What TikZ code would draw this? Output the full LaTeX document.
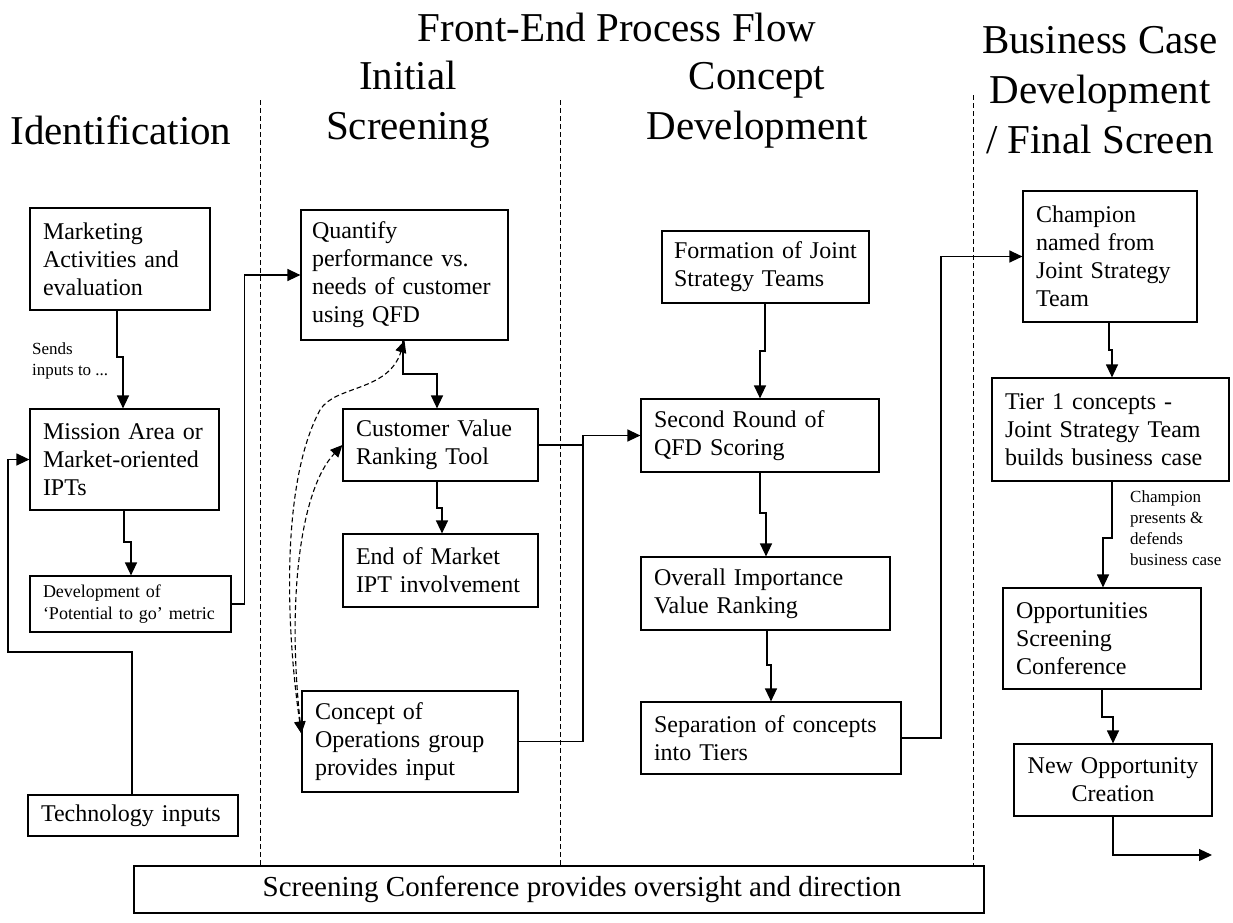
\documentclass[tikz,border=0pt]{standalone}
\usepackage{fontspec}
\setmainfont{Liberation Serif}
\usetikzlibrary{arrows.meta,calc}
\begin{document}
\begin{tikzpicture}[x=1pt,y=-1pt,
  box/.style={draw,line width=1.2pt,inner xsep=13pt,inner ysep=2pt,align=left,font=\fontsize{24}{28}\selectfont},
  hdr/.style={align=center,font=\fontsize{41}{50}\selectfont,inner sep=0pt},
  lbl/.style={align=left,font=\fontsize{17}{21}\selectfont,inner sep=0pt},
  conn/.style={line width=1.3pt,-{Triangle[length=13pt,width=12pt]}},
  plainline/.style={line width=1.3pt},
  divider/.style={line width=1pt,dash pattern=on 5pt off 3pt},
  fb/.style={line width=1.1pt,dash pattern=on 5pt off 3pt,{Triangle[length=12pt,width=11pt]}-{Triangle[length=12pt,width=11pt]}}
]
\fill[white] (0,0) rectangle (1233,922);
\useasboundingbox (0,0) rectangle (1233,922);

% headers
\node[hdr] (title) at (617,27) {Front-End Process Flow};
\node[hdr] (h1) at (121,130) {Identification};
\node[hdr] (h2) at (408,105) {Initial\\Screening};
\node[hdr] (h3) at (757,105) {Concept\\Development};
\node[hdr] (h4) at (1100,90) {Business Case\\Development\\/ Final Screen};

% dividers
\draw[divider] (260,100) -- (260,865);
\draw[divider] (560,100) -- (560,865);
\draw[divider] (973,95) -- (973,865);

% boxes
\node[box,minimum width=180pt,minimum height=102pt,text width=154pt] (mkt) at (120,259) {Marketing\\Activities and\\evaluation};
\node[box,minimum width=189pt,minimum height=101pt,text width=163pt] (mis) at (124.5,459.5) {Mission Area or\\Market-oriented\\IPTs};
\node[box,minimum width=201pt,minimum height=56pt,text width=175pt,font=\fontsize{18}{22}\selectfont] (dev) at (130.5,604) {Development of\\‘Potential to go’ metric};
\node[box,minimum width=210pt,minimum height=41pt,text width=184pt] (tech) at (133,815.5) {Technology inputs};

\node[box,minimum width=207pt,minimum height=130pt,text width=185pt,inner xsep=11pt] (qfd) at (404.5,275) {Quantify\\performance vs.\\needs of customer\\using QFD};
\node[box,minimum width=195pt,minimum height=72pt,text width=169pt] (cvr) at (440.5,445) {Customer Value\\Ranking Tool};
\node[box,minimum width=195pt,minimum height=73pt,text width=169pt] (end) at (440.5,570.5) {End of Market\\IPT involvement};
\node[box,minimum width=216pt,minimum height=101pt,text width=190pt] (con) at (410,741.5) {Concept of\\Operations group\\provides input};

\node[box,minimum width=207pt,minimum height=72pt,text width=191pt,inner xsep=8pt] (form) at (765.5,267) {\hspace*{4pt}Formation of Joint\\\hspace*{4pt}Strategy Teams};
\node[box,minimum width=238pt,minimum height=73pt,text width=212pt] (sec) at (760,435.5) {Second Round of\\QFD Scoring};
\node[box,minimum width=249pt,minimum height=73pt,text width=223pt] (ovr) at (765.5,593.5) {Overall Importance\\Value Ranking};
\node[box,minimum width=260pt,minimum height=72pt,text width=234pt] (sep) at (771,738) {Separation of concepts\\into Tiers};

\node[box,minimum width=174pt,minimum height=131pt,text width=148pt] (champ) at (1110,256.5) {Champion\\named from\\Joint Strategy\\Team};
\node[box,minimum width=237pt,minimum height=103pt,text width=211pt] (tier) at (1110.5,429.5) {Tier 1 concepts -\\Joint Strategy Team\\builds business case};
\node[box,minimum width=198pt,minimum height=101pt,text width=172pt] (opp) at (1102,638.5) {Opportunities\\Screening\\Conference};
\node[box,minimum width=198pt,minimum height=72pt,text width=172pt,align=center] (new) at (1113,780) {New Opportunity\\Creation};

\node[box,align=center,font=\fontsize{29}{34}\selectfont,minimum width=850pt,minimum height=47pt,inner xsep=0pt] (bot) at (559,889.5) {\hspace*{46pt}Screening Conference provides oversight and direction};

% labels
\node[lbl,anchor=north west] (sends) at (32,342) {Sends\\inputs to ...};
\node[lbl,anchor=north west] (pres) at (1130,490) {Champion\\presents \&\\defends\\business case};

% connectors
\draw[conn] (mkt.south -| 117,0) -- (117,357) -- (123,357) -- (mis.north -| 123,0);
\draw[conn] (mis.south -| 124,0) -- (124,542) -- (131,542) -- (dev.north -| 131,0);
\draw[conn] (dev.east) -- ++(13,0) |- (qfd.west);
\draw[conn] (tech.north -| 132,0) |- (8,652) |- (mis.west);
\draw[conn] (qfd.south -| 403,0) -- (403,374) -| (cvr.north -| 437,0);
\draw[conn] (cvr.south -| 437,0) -- (437,508) -- (442,508) -- (end.north -| 442,0);
\draw[conn] (cvr.east) -- (583,445) |- (sec.west);
\draw[plainline] (con.east) -| (583,445);
\draw[conn] (form.south -| 765,0) -- (765,351) -- (760,351) -- (sec.north -| 760,0);
\draw[conn] (sec.south -| 760,0) -- (760,513) -- (766,513) -- (ovr.north -| 766,0);
\draw[conn] (ovr.south -| 767,0) -- (767,665) -- (771,665) -- (sep.north -| 771,0);
\draw[conn] (sep.east) -- (941,738) |- (champ.west);
\draw[conn] (champ.south -| 1109,0) -- (1109,350) -- (1112,350) -- (tier.north -| 1112,0);
\draw[conn] (tier.south -| 1112,0) -- (1112,538) -- (1103,538) -- (opp.north -| 1103,0);
\draw[conn] (opp.south -| 1102,0) -- (1102,717) -- (1113,717) -- (new.north -| 1113,0);
\coordinate (out) at (1212,855);
\draw[conn] (new.south -| 1113,0) |- (out);

% dashed feedback curves
\draw[fb] ([yshift=8pt]con.west) .. controls (285,620) and (282,480) .. (320,410) .. controls (335,385) and (388,392) .. (qfd.south);
\draw[fb] ([yshift=8pt]con.west) .. controls (287,600) and (300,490) .. (cvr.west);
\end{tikzpicture}
\end{document}
